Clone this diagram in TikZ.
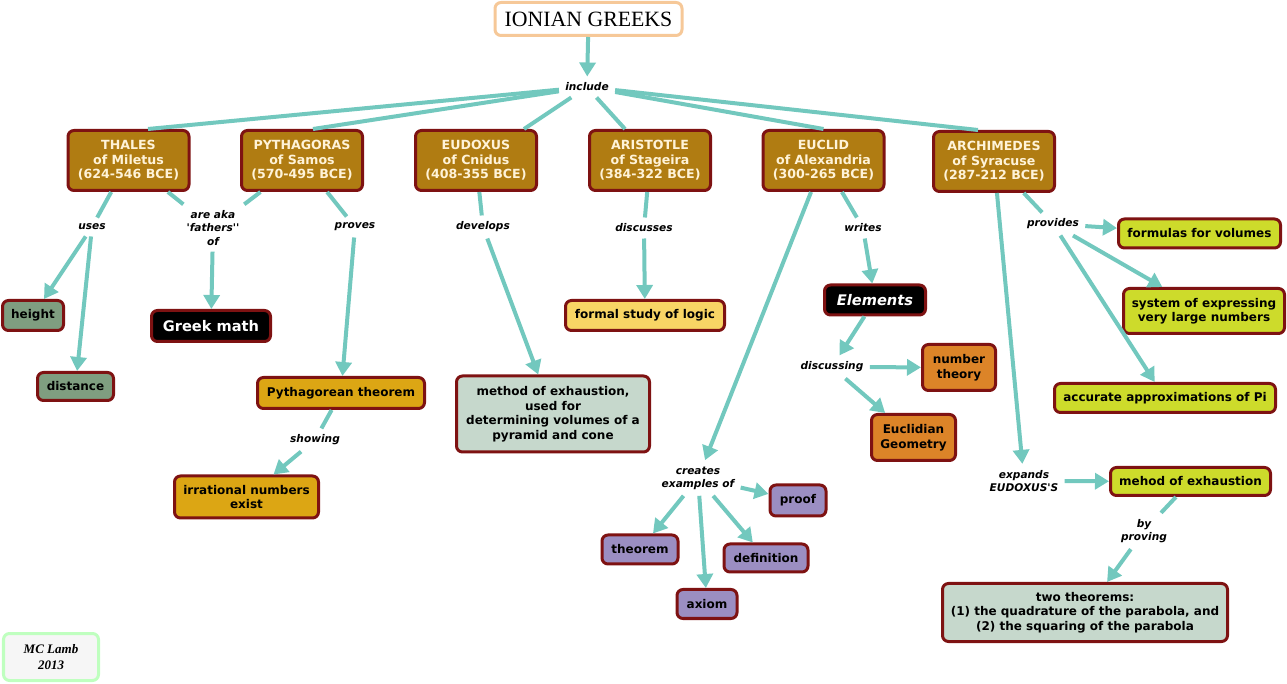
\documentclass[tikz,border=0pt]{standalone}
\usepackage{fontspec}
\setmainfont{DejaVu Sans}[Ligatures=TeXOff]
\newfontfamily\titrefont{Liberation Serif}
\usetikzlibrary{arrows.meta,calc}
\definecolor{bordeau}{HTML}{7E1212}
\definecolor{ocre}{HTML}{B07C12}
\definecolor{creme}{HTML}{FFF3D8}
\definecolor{turquoise}{HTML}{72C8BE}
\definecolor{sauge}{HTML}{7F9E80}
\definecolor{dore}{HTML}{DCA614}
\definecolor{grisvert}{HTML}{C6D8CC}
\definecolor{jaune}{HTML}{F8D565}
\definecolor{orange}{HTML}{DC8428}
\definecolor{mauve}{HTML}{9B8EC2}
\definecolor{anis}{HTML}{CDDB2B}
\definecolor{peche}{HTML}{F6C898}
\tikzset{
  boite/.style={draw=bordeau, line width=1.5pt, rounded corners=3pt, align=center, inner sep=1pt,
    font=\fontsize{6}{7.25}\selectfont\bfseries},
  philo/.style={boite, fill=ocre, text=creme, minimum width=60.5pt, minimum height=30pt,
    font=\fontsize{6.3}{7.25}\selectfont\bfseries},
  noire/.style={boite, fill=black, text=white, font=\fontsize{7.3}{9}\selectfont\bfseries},
  lien/.style={inner sep=3pt, align=center, font=\fontsize{5.3}{6.6}\selectfont\bfseries\itshape},
  trait/.style={draw=turquoise, line width=2pt},
  fleche/.style={trait, -{Triangle[width=8pt,length=7pt]}},
}
\begin{document}
\begin{tikzpicture}[x=0.5pt, y=-0.5pt]
  \useasboundingbox (0,0) rectangle (1287,684);
  %Titre et philosophes
  \node[draw=peche, line width=1.5pt, rounded corners=3pt, fill=white, minimum width=93.5pt, minimum height=16.5pt,
    font=\titrefont\fontsize{10.9}{12}\selectfont] (Titre) at (588.5,19) {IONIAN GREEKS};
  \node[lien] (Include) at (587,87) {include};
  \node[philo] (Thales) at (128.5,160.5) {THALES\\of Miletus\\(624-546 BCE)};
  \node[philo] (Pythagore) at (302,160.5) {PYTHAGORAS\\of Samos\\(570-495 BCE)};
  \node[philo] (Eudoxe) at (476,160.5) {EUDOXUS\\of Cnidus\\(408-355 BCE)};
  \node[philo] (Aristote) at (650,160.5) {ARISTOTLE\\of Stageira\\(384-322 BCE)};
  \node[philo] (Euclide) at (823.5,160.5) {EUCLID\\of Alexandria\\(300-265 BCE)};
  \node[philo] (Archimede) at (994,161.5) {ARCHIMEDES\\of Syracuse\\(287-212 BCE)};
  %Mots de liaison
  \node[lien] (Uses) at (92,227) {uses};
  \node[lien] (Aka) at (213,228) {are aka\\'fathers''\\of};
  \node[lien] (Proves) at (355,227) {proves};
  \node[lien] (Develops) at (483,227) {develops};
  \node[lien] (Discusses) at (644,228) {discusses};
  \node[lien] (Writes) at (863,228) {writes};
  \node[lien] (Provides) at (1053,224) {provides};
  \node[lien] (Showing) at (315,440) {showing};
  \node[lien] (Discussing) at (832,367) {discussing};
  \node[lien] (Creates) at (698,478) {creates\\examples of};
  \node[lien] (Expands) at (1024,481) {expands\\EUDOXUS'S};
  \node[lien] (Proving) at (1144,531) {by\\proving};
  %Concepts
  \node[boite, fill=sauge, minimum width=30.5pt, minimum height=15pt] (Height) at (33,315.5) {height};
  \node[boite, fill=sauge, minimum width=38pt, minimum height=14pt] (Distance) at (75.5,386.5) {distance};
  \node[noire, minimum width=59.5pt, minimum height=15.5pt] (Greek) at (211,326) {Greek math};
  \node[boite, fill=dore, minimum width=83.5pt, minimum height=15.5pt] (PythThm) at (341,393) {Pythagorean theorem};
  \node[boite, fill=dore, minimum width=72pt, minimum height=21pt] (Irrational) at (246.5,497) {irrational numbers\\exist};
  \node[boite, fill=grisvert, minimum width=96.5pt, minimum height=38pt] (Methode) at (553,414)
    {method of exhaustion,\\used for\\determining volumes of a\\pyramid and cone};
  \node[boite, fill=jaune, minimum width=79.5pt, minimum height=15pt] (Logique) at (645,315.5) {formal study of logic};
  \node[noire, minimum width=50.5pt, minimum height=15pt, font=\fontsize{7.3}{9}\selectfont\bfseries\itshape] (Elements) at (875,300) {Elements};
  \node[boite, fill=orange, minimum width=36.5pt, minimum height=23pt] (Nombres) at (959,367.5) {number\\theory};
  \node[boite, fill=orange, minimum width=42pt, minimum height=23pt] (Geometrie) at (913.5,437.5) {Euclidian\\Geometry};
  \node[boite, fill=mauve, minimum width=28pt, minimum height=15.5pt] (Proof) at (798,500.5) {proof};
  \node[boite, fill=mauve, minimum width=38pt, minimum height=14.5pt] (Theorem) at (640,549.5) {theorem};
  \node[boite, fill=mauve, minimum width=42pt, minimum height=14pt] (Definition) at (766,558) {definition};
  \node[boite, fill=mauve, minimum width=30pt, minimum height=14.5pt] (Axiom) at (707,604) {axiom};
  \node[boite, fill=anis, minimum width=81pt, minimum height=14.5pt] (Formules) at (1199.5,233.5) {formulas for volumes};
  \node[boite, fill=anis, minimum width=80.5pt, minimum height=22.5pt] (Systeme) at (1204,311) {system of expressing\\very large numbers};
  \node[boite, fill=anis, minimum width=110.5pt, minimum height=14.5pt] (Pi) at (1165,398) {accurate approximations of Pi};
  \node[boite, fill=anis, minimum width=80pt, minimum height=14pt] (Mehod) at (1190.5,481.5) {mehod of exhaustion};
  \node[boite, fill=grisvert, minimum width=142.5pt, minimum height=29pt] (DeuxThm) at (1085,612.5)
    {two theorems:\\(1) the quadrature of the parabola, and\\(2) the squaring of the parabola};
  \node[draw=green!25, line width=1.5pt, rounded corners=3pt, fill=cyan!4!gray!8, minimum width=47.5pt, minimum height=23.5pt,
    align=center, font=\titrefont\fontsize{6.5}{8}\selectfont\bfseries\itshape] (Signature) at (51,657) {MC Lamb\\2013};
  %Liens
  \draw[fleche] (Titre) -- (Include);
  \draw[trait] (Include) -- ($(Thales.north)+(19.5,0)$);
  \draw[trait] (Include) -- ($(Pythagore.north)+(11,0)$);
  \draw[trait] (Include) -- ($(Eudoxe.north)+(48,0)$);
  \draw[trait] (Include) -- ($(Aristote.north)+(-25,0)$);
  \draw[trait] (Include) -- (Euclide.north);
  \draw[trait] (Include) -- ($(Archimede.north)+(-16,0)$);
  \draw[trait] (Thales) -- (Uses);
  \draw[fleche] (Uses) -- (Height);
  \draw[fleche] (Uses) -- (Distance);
  \draw[trait] (Thales) -- (Aka);
  \draw[trait] (Pythagore) -- (Aka);
  \draw[fleche] (Aka) -- (Greek);
  \draw[trait] (Pythagore) -- (Proves);
  \draw[fleche] (Proves) -- (PythThm);
  \draw[trait] (PythThm) -- (Showing);
  \draw[fleche] (Showing) -- (Irrational);
  \draw[trait] (Eudoxe) -- (Develops);
  \draw[fleche] (Develops) -- (Methode);
  \draw[trait] (Aristote) -- (Discusses);
  \draw[fleche] (Discusses) -- (Logique);
  \draw[trait] (Euclide) -- (Writes);
  \draw[fleche] (Writes) -- (Elements);
  \draw[fleche] (Elements) -- (Discussing);
  \draw[fleche] (Discussing) -- (Nombres);
  \draw[fleche] (Discussing) -- (Geometrie);
  \draw[fleche] (Euclide) -- (Creates);
  \draw[fleche] (Creates) -- (Proof);
  \draw[fleche] (Creates) -- (Theorem);
  \draw[fleche] (Creates) -- (Axiom);
  \draw[fleche] (Creates) -- (Definition);
  \draw[trait] (Archimede) -- (Provides);
  \draw[fleche] (Provides) -- (Formules);
  \draw[fleche] (Provides) -- (Systeme);
  \draw[fleche] (Provides) -- (Pi);
  \draw[fleche] (Archimede) -- (Expands);
  \draw[fleche] (Expands) -- (Mehod);
  \draw[trait] (Mehod) -- (Proving);
  \draw[fleche] (Proving) -- (DeuxThm);
\end{tikzpicture}
\end{document}
